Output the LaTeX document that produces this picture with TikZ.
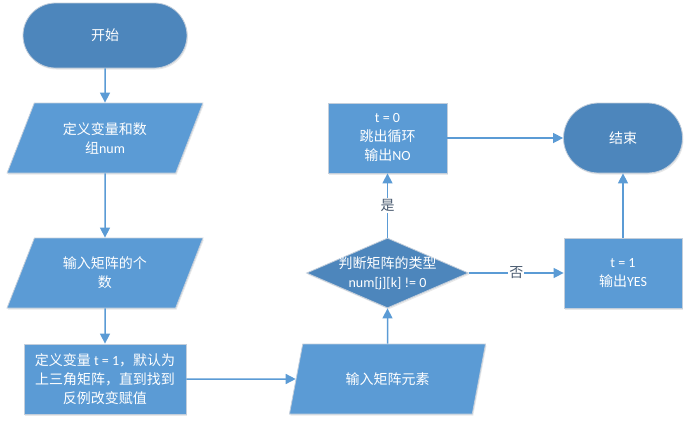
\documentclass[tikz,border=0pt]{standalone}
\usepackage{fontspec}
\setmainfont{Carlito}
\newfontfamily\cjk{Noto Sans CJK SC}
\usetikzlibrary{arrows.meta,shapes.geometric,shapes.misc,shadows}
\definecolor{blau}{HTML}{5B9BD5}
\definecolor{dblau}{HTML}{4D86BC}
\definecolor{rand}{HTML}{C3CEDB}
\definecolor{graublau}{HTML}{4A5B70}
\tikzset{
  pfeil/.style={-{Triangle[length=10pt,width=10pt]},blau,line width=1.5pt},
  wtext/.style={text=white,font=\fontsize{14}{19}\selectfont,align=center},
  form/.style={wtext,draw=rand,line width=0.8pt,inner sep=0pt,
    drop shadow={shadow xshift=1pt,shadow yshift=-1.5pt,opacity=0.18}},
  term/.style={form,rounded rectangle,fill=dblau},
  kasten/.style={form,rectangle,fill=blau},
  eingabe/.style={form,trapezium,trapezium left angle=63,trapezium right angle=117,
    trapezium stretches=true,fill=blau},
  raute/.style={form,diamond,fill=dblau},
  marke/.style={fill=white,text=graublau,font=\cjk\fontsize{14}{16}\selectfont,inner sep=1pt},
}

\begin{document}
\begin{tikzpicture}[x=1pt,y=-1pt]
  \useasboundingbox (0,0) rectangle (689,424);
  % linke Spalte
  \node[term,minimum width=164,minimum height=65] (start) at (105,35.5) {\cjk 开始};
  \node[eingabe,minimum width=196,minimum height=70] (def) at (105,138)
    {{\cjk 定义变量和数}\\{\cjk 组}num};
  \node[eingabe,minimum width=196,minimum height=70] (anz) at (105,273)
    {{\cjk 输入矩阵的个}\\{\cjk 数}};
  \node[kasten,minimum width=162,minimum height=70] (init) at (105,379)
    {{\cjk 定义变量} t = 1{\cjk ，默认为}\\{\cjk 上三角矩阵，直到找到}\\{\cjk 反例改变赋值}};
  % mittlere Spalte
  \node[eingabe,minimum width=198,minimum height=70] (eing) at (387.5,379) {\cjk 输入矩阵元素};
  \node[raute,minimum width=162,minimum height=70,
    label={[wtext]center:{{\cjk 判断矩阵的类型}\\num[j][k] != 0}}] (pruef) at (387.5,273) {};
  \node[kasten,minimum width=119,minimum height=70] (nein) at (387.5,138)
    {t = 0\\{\cjk 跳出循环}\\{\cjk 输出}NO};
  % rechte Spalte
  \node[kasten,minimum width=118,minimum height=70] (ja) at (623,273) {t = 1\\{\cjk 输出}YES};
  \node[term,minimum width=119,minimum height=70] (ende) at (623,138) {\cjk 结束};
  % Verbindungen
  \draw[pfeil] (start) -- (def);
  \draw[pfeil] (def) -- (anz);
  \draw[pfeil] (anz) -- (init);
  \draw[pfeil] (init) -- (eing);
  \draw[pfeil] (eing) -- (pruef);
  \draw[pfeil] (pruef) -- node[marke]{是} (nein);
  \draw[pfeil] (pruef) -- node[marke]{否} (ja);
  \draw[pfeil] (nein) -- (ende);
  \draw[pfeil] (ja) -- (ende);
\end{tikzpicture}
\end{document}
